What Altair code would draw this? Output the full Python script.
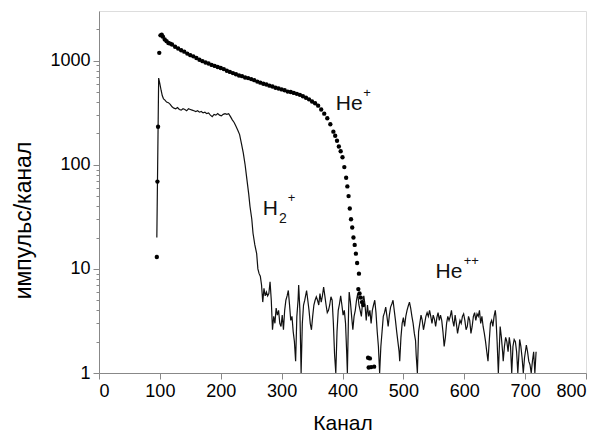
import altair as alt
import pandas as pd

# He+ (dots)
he_x = [95, 96, 97, 99, 101, 103, 105, 108, 111, 114, 117, 120, 125, 130, 135, 140, 145, 150,
        155, 160, 165, 170, 175, 180, 185, 190, 195, 200, 205, 210, 215, 220, 225, 230, 235,
        240, 245, 250, 255, 260, 265, 270, 275, 280, 285, 290, 295, 300, 305, 310, 315, 320,
        325, 330, 335, 340, 345, 350, 355, 360, 365, 370, 375, 380, 385, 388, 391, 394, 397,
        400, 403, 406, 408, 410, 412, 414, 416, 418, 420, 422, 424, 426, 427, 428, 430, 432,
        434, 442, 443, 445, 447, 452]
he_y = [13, 69, 232, 1190, 1750, 1780, 1700, 1600, 1540, 1480, 1460, 1430, 1360, 1310, 1260,
        1220, 1170, 1130, 1100, 1060, 1020, 990, 960, 940, 910, 890, 870, 850, 830, 800, 780,
        760, 740, 720, 710, 690, 680, 665, 650, 630, 615, 600, 590, 575, 565, 550, 540, 530,
        520, 505, 500, 490, 480, 470, 455, 440, 425, 405, 390, 370, 340, 310, 280, 245, 208,
        190, 170, 150, 135, 118, 95, 75, 62, 50, 38, 30, 25, 20, 17, 14, 11.4, 6.4, 9, 5.8,
        5.3, 4.8, 4.5, 1.4, 1.13, 1.38, 1.14, 1.15]

# H2+ (line)
h2_x = [95, 98, 100, 102, 104, 106, 108, 111, 114, 117, 120, 123, 126, 129, 132, 135, 138, 141,
        144, 147, 150, 153, 156, 159, 162, 165, 168, 171, 174, 177, 180, 183, 186, 189, 192,
        195, 198, 201, 204, 207, 210, 213, 216, 219, 222, 225, 228, 231, 234, 237, 240, 243,
        246, 248, 251, 253, 256, 259, 261, 263, 265, 267, 269, 271, 273, 275, 277, 279, 281,
        283, 285, 287, 289, 291, 293, 295, 297, 299, 301, 303, 305, 307, 309, 311, 313, 315,
        317, 319, 321, 323, 325, 327, 328, 330, 332, 334, 336, 338, 341, 343, 345, 347, 349,
        351, 353, 355, 357, 359, 361, 363, 365, 367, 369, 371, 373, 375, 377, 379, 381, 383,
        385, 387, 389, 391, 393, 395, 397, 399, 401, 403, 405, 407, 408, 410, 411, 413, 415,
        417, 419, 421, 423, 425, 427, 429, 431, 433, 435, 437, 439, 441, 443, 445, 447, 449,
        451, 453, 455, 457, 459, 461, 463, 465, 467, 469, 471, 473, 475, 477, 479, 481, 483,
        485, 487, 489, 491, 493, 494, 496, 498, 500, 502, 504, 506, 508, 510, 512, 514, 516,
        518, 520, 521, 523, 525, 527, 529, 531, 533, 535, 537, 539, 541, 543, 545, 547, 549,
        551, 553, 555, 557, 559, 561, 563, 565, 567, 569, 571, 573, 575, 577, 579, 581, 583,
        585, 587, 589, 591, 593, 595, 597, 599, 601, 603, 605, 607, 609, 611, 613, 615, 617,
        619, 621, 623, 625, 627, 629, 631, 633, 635, 637, 639, 641, 643, 645, 647, 649, 651,
        652, 654, 656, 658, 659, 661, 663, 664, 666, 668, 670, 672, 674, 676, 678, 680, 682,
        684, 686, 688, 690, 691, 693, 695, 697, 699, 702, 704, 706, 708, 710, 712, 714, 716,
        718]
h2_y = [20, 680, 600, 520, 460, 430, 420, 400, 395, 380, 360, 350, 345, 355, 340, 335, 345, 340,
        330, 345, 340, 335, 330, 325, 330, 320, 325, 315, 320, 310, 315, 300, 290, 305, 300,
        310, 300, 295, 305, 310, 305, 310, 290, 270, 255, 235, 215, 195, 160, 130, 100, 72,
        52, 40, 30, 22, 17, 14, 10, 9, 8.5, 7, 4.8, 6.5, 5.5, 6, 5.5, 5.8, 7.5,
        5, 2.6, 3.5, 3, 4.2, 3.6, 4, 3, 2.8, 3.6, 2.6, 4, 5, 5.5, 6.2, 4.5, 3.2,
        3.5, 2.5, 2, 1.3, 3.5, 5, 7, 4, 1.0, 3, 4.5, 5, 6.2, 5, 4, 3, 2.6,
        3.5, 4.5, 5, 5.4, 5, 4.5, 5.8, 4.8, 5.5, 6.7, 5.5, 4.5, 3.8, 4, 4.5, 5.4, 5,
        3, 1.5, 1.0, 2.5, 4, 4.6, 5.5, 4.5, 3.6, 4, 3, 1.5, 1.0, 4, 6, 4.8, 3.5,
        2.6, 3.5, 4, 5, 5.8, 4.5, 4, 3.5, 4.8, 5.5, 4.5, 3.2, 4.5, 3.5, 4, 3, 4,
        4.5, 5, 3.8, 2.5, 1.8, 1.0, 1.8, 2.5, 3.5, 3.8, 4.3, 3.5, 2.8, 3.6, 4.3, 4.6, 5,
        4, 3.2, 2.5, 2, 1.6, 1.3, 2.2, 3, 3.4, 2.8, 3.5, 4, 4.4, 4.8, 4.2, 3.5, 3,
        2.4, 2.05, 1.5, 1.0, 2.5, 3, 3.6, 3.2, 2.6, 3, 3.5, 3.8, 3.5, 4, 3.5, 3, 3.6,
        3.3, 2.8, 3.4, 3.8, 3.2, 3.6, 3.2, 2.5, 1.8, 2.2, 3, 3.5, 3.2, 3.5, 4, 3.2, 2.8,
        3.6, 3, 2.4, 2.8, 3.2, 3, 3.5, 3.7, 3.2, 2.6, 2.8, 3.5, 3.2, 2.4, 2.8, 3.5, 3.8,
        3.2, 3.7, 3.5, 4, 3, 3.5, 2.8, 2.4, 2, 1.6, 1.3, 2, 3, 3.2, 2.8, 3.5, 4,
        3.5, 2, 1.0, 2, 2.8, 2.2, 1.6, 1.3, 1.8, 2.2, 2.0, 1.6, 2.2, 1.8, 1.0, 1.8, 2.1,
        2, 1.6, 1.0, 1.6, 2.1, 1.8, 1.4, 1.0, 1.4, 1.85, 1.6, 1.3, 1.2, 1.0, 1.3, 1.6, 1.0,
        1.6]

# annotations: main text (right-aligned at lab_x), superscript, subscript
lab_main = ["He", "H", "He"]
lab_x = [433, 294, 597]
lab_y = [338, 33, 8.1]
sup_text = ["+", "+", "++"]
sup_x = [434, 310, 599]
sub_text = ["", "2", ""]

y_ticks = [1, 2, 3, 4, 5, 6, 7, 8, 9, 10, 20, 30, 40, 50, 60, 70, 80, 90,
           100, 200, 300, 400, 500, 600, 700, 800, 900, 1000, 2000]
x_ticks = list(range(0, 801, 50))

FONT = "Liberation Sans"

he = pd.DataFrame({"x": he_x, "y": he_y})
h2 = pd.DataFrame({"x": h2_x, "y": h2_y})
ann = pd.DataFrame({"x": lab_x, "y": lab_y, "main": lab_main, "sup": sup_text,
                    "sub": sub_text, "sx": sup_x})

xscale = alt.Scale(domain=[0, 800], nice=False)
yscale = alt.Scale(type="log", domain=[1, 3000], nice=False)

xaxis = alt.Axis(values=x_ticks, title="Канал",
                 labelExpr="datum.value % 100 == 0 ? datum.label : ''",
                 tickSize={"condition": {"test": "datum.value % 100 != 0", "value": 3}, "value": 6},
                 labelFontSize=18, titleFontSize=21, titleFontWeight="normal",
                 labelPadding=3, titlePadding=12, grid=False)
yaxis = alt.Axis(values=y_ticks, title="импульс/канал", format="d",
                 labelExpr="indexof([1,10,100,1000], datum.value) >= 0 ? datum.label : ''",
                 tickSize={"condition": {"test": "indexof([1,10,100,1000], datum.value) < 0",
                                         "value": 3}, "value": 6},
                 labelFontSize=18, titleFontSize=23, titleFontWeight="normal",
                 labelPadding=3, titlePadding=14, titleY=209, grid=False)

line = alt.Chart(h2).mark_line(color="#111111", strokeWidth=1.2, clip=True).encode(
    x=alt.X("x:Q", scale=xscale, axis=xaxis),
    y=alt.Y("y:Q", scale=yscale, axis=yaxis),
)
pts = alt.Chart(he).mark_circle(color="#000000", size=19, opacity=1, clip=True).encode(
    x=alt.X("x:Q", scale=xscale),
    y=alt.Y("y:Q", scale=yscale),
)
t_main = alt.Chart(ann).mark_text(font=FONT, fontSize=21, align="right",
                                  baseline="alphabetic", color="#111111").encode(
    x="x:Q", y="y:Q", text="main:N")
t_sup = alt.Chart(ann).mark_text(font=FONT, fontSize=13, align="left",
                                 baseline="alphabetic", color="#111111", dy=-13).encode(
    x="sx:Q", y="y:Q", text="sup:N")
t_sub = alt.Chart(ann).mark_text(font=FONT, fontSize=14, align="left",
                                 baseline="alphabetic", color="#111111", dx=1, dy=8).encode(
    x="x:Q", y="y:Q", text="sub:N")

chart = alt.layer(line, pts, t_main, t_sup, t_sub).properties(
    width=487, height=362,
    autosize=alt.AutoSizeParams(type="none"),
    padding={"left": 91, "top": 3, "right": 5, "bottom": 64},
).configure_view(stroke="black", strokeWidth=1).configure_axis(
    labelFont=FONT, titleFont=FONT, labelColor="#111111", titleColor="#111111",
    domainColor="black", tickColor="black", domainWidth=1, tickWidth=1
).configure(background="white")

chart.save("out.html", embed_options={"renderer": "svg", "actions": False})
